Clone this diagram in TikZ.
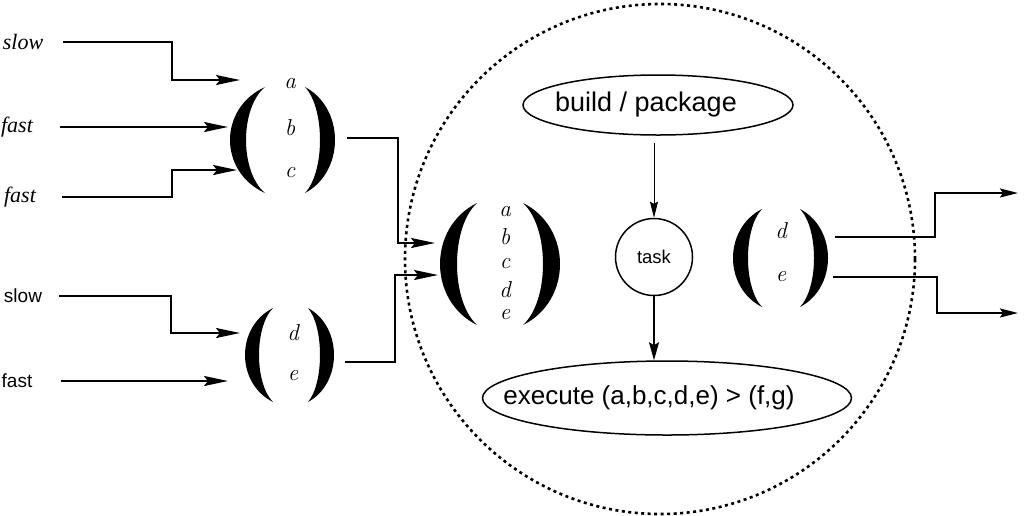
\documentclass[tikz,border=0pt]{standalone}
\usepackage{fontspec}
\usetikzlibrary{arrows.meta,shapes.geometric,calc}
\newfontfamily\timesf{Liberation Serif}
\newfontfamily\helv{Liberation Sans}
% crescent-shaped big parenthesis: tip x, top y, bottom y, outer bulge x, inner bulge x
\newcommand{\bigparen}[5]{%
  \pgfmathsetmacro\pco{#1+(#4-#1)/0.75}%
  \pgfmathsetmacro\pci{#1+(#5-#1)/0.75}%
  \pgfmathsetmacro\pya{#2+0.2*(#3-#2)}%
  \pgfmathsetmacro\pyb{#3-0.2*(#3-#2)}%
  \fill (#1,#2) .. controls (\pco,\pya) and (\pco,\pyb) .. (#1,#3)
        .. controls (\pci,\pyb) and (\pci,\pya) .. (#1,#2) -- cycle;}
\begin{document}
\begin{tikzpicture}[x=1pt,y=-1pt,
  conn/.style={line width=2.2pt,-{Stealth[length=24pt,width=10pt,inset=4pt]}},
  outconn/.style={line width=2.2pt,-{Stealth[length=18pt,width=9pt,inset=3pt]}},
  itlab/.style={inner sep=0pt,font=\timesf\itshape\fontsize{22}{22}\selectfont},
  sflab/.style={inner sep=0pt,font=\helv\fontsize{19}{19}\selectfont},
  letter/.style={inner sep=0pt,font=\fontsize{23}{23}\selectfont\itshape},
  group/.style={inner sep=0pt,draw=none},
  oval/.style={ellipse,draw,line width=1.5pt,inner sep=0pt}]
\useasboundingbox (0,0) rectangle (1024,515);

% dotted boundary
\node[circle,draw,line width=2.6pt,dash pattern=on 3pt off 3.5pt,minimum size=510pt,inner sep=0pt] (boundary) at (660,259) {};

% input labels
\node[itlab] (s1) at (23,42) {slow};
\node[itlab] (f1) at (17,127) {fast};
\node[itlab] (f2) at (20,197) {fast};
\node[sflab] (s2) at (23,296) {slow};
\node[sflab] (f3) at (17,381) {fast};

% group abc
\node[group,minimum width=105pt,minimum height=106pt] (g1) at (283,140) {};
\bigparen{265}{87}{193}{230}{246}
\bigparen{305}{87}{193}{335}{320}
\node[letter] (g1a) at (290,84) {a};
\node[letter] (g1b) at (290,128) {b};
\node[letter] (g1c) at (290,173) {c};

% group de (left)
\node[group,minimum width=89pt,minimum height=94pt] (g2) at (290,355) {};
\bigparen{273}{308}{402}{245}{259}
\bigparen{308}{308}{402}{334}{320}
\node[letter] (g2d) at (293,333) {d};
\node[letter] (g2e) at (293,376) {e};

% group abcde
\node[group,minimum width=120pt,minimum height=122pt] (g3) at (500,264) {};
\bigparen{477}{203}{325}{440}{457}
\bigparen{523}{203}{325}{560}{543}
\node[letter] (g3a) at (505,212) {a};
\node[letter] (g3b) at (505,237) {b};
\node[letter] (g3c) at (505,264) {c};
\node[letter] (g3d) at (505,290) {d};
\node[letter] (g3e) at (505,315) {e};

% group de (right)
\node[group,minimum width=95pt,minimum height=98pt] (g4) at (780,258) {};
\bigparen{762}{209}{307}{733}{748}
\bigparen{800}{209}{307}{828}{814}
\node[letter] (g4d) at (781,231) {d};
\node[letter] (g4e) at (781,277) {e};

% ports
\coordinate (in1) at (240,80);
\coordinate (in2) at (228,127);
\coordinate (in3) at (237,170);
\coordinate (in4) at (240,333);
\coordinate (in5) at (228,380);
\coordinate (g1o) at (347,138);
\coordinate (g2o) at (345,362);
\coordinate (in6) at (435,243);
\coordinate (in7) at (438,275);
\coordinate (g4o1) at (835,237);
\coordinate (g4o2) at (833,277);
\coordinate (out1) at (1018,193);
\coordinate (out2) at (1018,313);

% input connectors
\draw[conn] ([xshift=20pt]s1.east) -- ++(109,0) |- (in1);
\draw[conn] ([xshift=27pt]f1.east) -- (in2 |- f1.east);
\draw[conn] ([xshift=26pt]f2.east) -- ++(110,0) |- (in3);
\draw[conn] ([xshift=17pt]s2.east) -- ++(112,0) |- (in4);
\draw[conn] ([xshift=28pt]f3.east) -- (in5 |- f3.east);

% into the component
\draw[conn] (g1o) -- ++(51,0) |- (in6);
\draw[conn] (g2o) -- ++(50,0) |- (in7);

% outputs
\draw[outconn] (g4o1) -- ++(100,0) |- (out1);
\draw[outconn] (g4o2) -- ++(104,0) |- (out2);

% inner process
\node[oval,minimum width=270pt,minimum height=60pt,font=\helv\fontsize{27}{27}\selectfont] (build) at (658,105) {\hspace{-24pt}build / package};
\node[circle,draw,line width=1.5pt,minimum size=77pt,inner sep=0pt,font=\helv\fontsize{18.5}{19}\selectfont] (task) at (654,257) {task};
\node[oval,minimum width=369pt,minimum height=74pt,font=\helv\fontsize{26}{26}\selectfont] (exec) at (667,398) {\hspace{-36pt}execute (a,b,c,d,e) > (f,g)};

\draw[line width=1pt,-{Stealth[length=16pt,width=8pt,inset=2pt]}] ([yshift=-7pt]build.south -| task.north) -- (task.north);
\draw[line width=1.6pt,-{Stealth[length=18pt,width=10pt,inset=3pt]}] (task.south) -- (task.south |- exec.north);
\end{tikzpicture}
\end{document}
